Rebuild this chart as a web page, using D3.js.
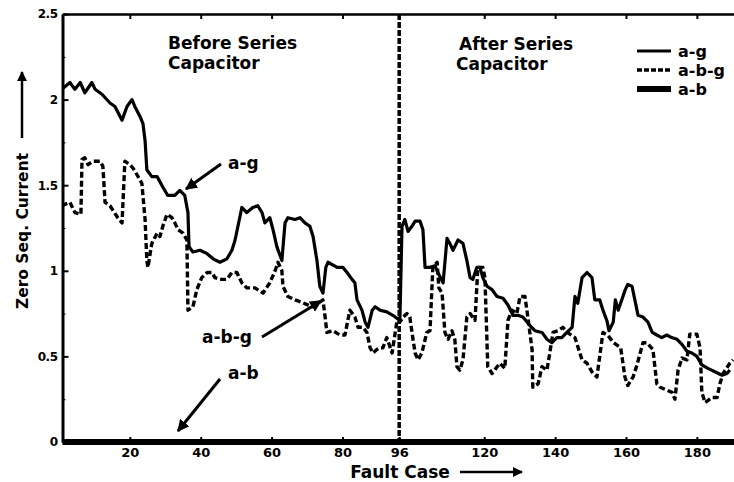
<!DOCTYPE html>
<html>
<head>
<meta charset="utf-8">
<script src="https://cdn.jsdelivr.net/npm/d3@7"></script>
<style>
body { margin: 0; background: #fff; }
svg text { font-family: "DejaVu Sans", "Liberation Sans", Arial, sans-serif; font-weight: bold; fill: #000; }
</style>
</head>
<body>
<svg id="chart" width="734" height="482"></svg>
<script>
// zero sequence current per fault case as [case, value]
var agSeries = [
  [0.8,2.06],[3.1,2.10],[4.5,2.06],[6.0,2.10],[7.3,2.04],[9.3,2.10],[10.2,2.06],[12.2,2.03],[14.4,1.98],[15.8,1.96],
  [17.8,1.88],[19.2,1.96],[20.6,2.00],[21.4,1.96],[22.9,1.90],[23.7,1.86],[24.3,1.76],[24.8,1.59],[26.2,1.55],[27.7,1.55],
  [29.3,1.49],[30.7,1.44],[32.7,1.44],[34.1,1.47],[35.5,1.44],[36.4,1.34],[36.7,1.14],[37.8,1.11],[39.8,1.12],[41.8,1.10],
  [43.5,1.07],[45.4,1.05],[47.4,1.07],[48.8,1.12],[49.7,1.18],[51.6,1.37],[53.0,1.34],[54.7,1.37],[56.1,1.38],[57.3,1.34],
  [58.1,1.28],[59.5,1.31],[60.4,1.24],[61.5,1.14],[62.9,1.06],[63.8,1.28],[64.6,1.31],[66.6,1.30],[68.0,1.31],[69.4,1.28],
  [70.8,1.26],[71.7,1.20],[72.8,1.06],[73.6,0.91],[74.5,0.87],[75.3,1.02],[75.9,1.05],[78.5,1.02],[80.1,1.02],[81.3,0.99],
  [82.7,0.95],[83.5,0.93],[84.1,0.83],[85.5,0.77],[86.4,0.70],[87.2,0.67],[88.4,0.77],[89.2,0.79],[90.6,0.77],[92.5,0.76],
  [94.2,0.74],[96.2,0.71],[96.8,1.26],[97.6,1.30],[98.5,1.23],[99.6,1.26],[100.5,1.29],[101.9,1.29],[102.7,1.24],[103.3,1.02],
  [104.7,1.02],[106.1,1.03],[106.9,0.99],[108.4,0.93],[109.5,1.19],[110.3,1.16],[111.2,1.12],[112.6,1.18],[114.0,1.16],[115.1,1.06],
  [116.0,0.96],[116.8,0.95],[117.9,1.02],[118.8,1.02],[119.6,0.96],[120.8,0.91],[122.2,0.89],[123.6,0.85],[125.3,0.84],[126.7,0.80],
  [128.1,0.74],[129.5,0.74],[130.9,0.73],[132.9,0.68],[134.3,0.65],[136.3,0.64],[137.7,0.60],[139.1,0.58],[140.5,0.61],[141.9,0.61],
  [143.3,0.64],[144.8,0.67],[145.6,0.85],[146.4,0.81],[147.6,0.96],[149.0,0.99],[150.4,0.96],[151.2,0.83],[152.6,0.83],[153.5,0.77],
  [154.6,0.71],[155.2,0.65],[156.4,0.70],[157.0,0.83],[157.8,0.77],[159.8,0.89],[160.5,0.92],[161.7,0.91],[162.5,0.83],[163.4,0.74],
  [164.8,0.73],[166.2,0.70],[167.4,0.64],[168.7,0.625],[170.1,0.61],[171.5,0.625],[172.9,0.61],[174.4,0.60],[175.8,0.57],[177.2,0.53],
  [178.6,0.52],[180.0,0.50],[181.4,0.45],[183.1,0.43],[185.1,0.41],[187.1,0.39],[188.5,0.40],[189.3,0.42]
];

var abgSeries = [
  [0.8,1.38],[3.1,1.40],[4.5,1.34],[6.2,1.33],[6.5,1.65],[7.3,1.66],[8.2,1.62],[9.6,1.64],[11.6,1.64],[12.4,1.61],
  [13.0,1.40],[14.4,1.38],[16.6,1.31],[17.8,1.28],[18.6,1.64],[20.0,1.62],[20.9,1.60],[22.9,1.53],[23.4,1.51],[24.3,1.30],
  [24.8,1.06],[25.1,1.02],[26.2,1.16],[27.7,1.22],[28.5,1.20],[29.3,1.26],[30.5,1.33],[31.9,1.31],[32.7,1.28],[33.6,1.24],
  [35.0,1.22],[36.1,1.18],[36.4,0.77],[37.8,0.79],[38.9,0.89],[40.3,0.96],[41.8,0.99],[43.2,0.99],[44.0,0.96],[45.4,0.95],
  [47.4,0.95],[48.8,0.99],[50.2,0.99],[51.6,0.93],[53.0,0.90],[55.3,0.90],[57.6,0.87],[59.5,0.93],[61.0,1.00],[61.8,1.05],
  [62.9,1.00],[63.2,0.91],[64.6,0.85],[66.6,0.83],[68.0,0.82],[71.4,0.79],[73.1,0.81],[74.5,0.83],[75.1,0.73],[75.6,0.64],
  [77.3,0.65],[79.3,0.625],[80.7,0.625],[81.5,0.71],[82.1,0.77],[83.5,0.73],[84.4,0.67],[85.8,0.67],[86.9,0.64],[87.8,0.55],
  [88.6,0.52],[89.7,0.54],[90.6,0.55],[91.4,0.55],[92.5,0.61],[94.0,0.52],[95.4,0.71],[96.2,0.70],[97.1,0.73],[98.2,0.75],
  [99.0,0.73],[99.9,0.60],[100.5,0.52],[101.3,0.48],[102.4,0.52],[103.8,0.64],[104.7,0.65],[105.5,1.02],[106.7,1.05],[107.2,0.90],
  [108.1,0.87],[108.9,0.64],[109.8,0.60],[110.9,0.65],[111.7,0.60],[112.3,0.44],[113.1,0.42],[114.0,0.48],[115.1,0.73],[116.0,0.75],
  [117.4,0.71],[118.2,1.02],[119.6,1.02],[120.2,0.96],[121.0,0.44],[122.2,0.40],[124.4,0.46],[125.8,0.43],[126.7,0.71],[127.8,0.77],
  [129.2,0.75],[130.1,0.85],[131.5,0.85],[132.3,0.73],[133.5,0.54],[133.7,0.32],[135.2,0.34],[136.3,0.44],[137.7,0.42],[138.5,0.52],
  [139.4,0.64],[140.8,0.65],[142.2,0.67],[143.4,0.64],[145.6,0.61],[147.6,0.48],[149.0,0.46],[150.4,0.41],[151.8,0.38],[153.5,0.64],
  [155.0,0.62],[156.5,0.58],[158.5,0.55],[159.7,0.38],[160.5,0.33],[162.0,0.38],[163.1,0.45],[164.8,0.58],[165.9,0.58],[167.6,0.54],
  [168.7,0.34],[169.6,0.32],[173.0,0.29],[173.8,0.25],[174.7,0.42],[175.8,0.49],[177.2,0.48],[178.0,0.63],[180.0,0.63],[180.9,0.55],
  [181.4,0.29],[182.3,0.23],[184.3,0.26],[185.7,0.26],[186.5,0.34],[187.4,0.40],[189.3,0.46],[190.2,0.48]
];

// a-b fault gives no zero sequence current
var abSeries = [[1,0],[96,0],[192,0]];

var capacitorCase = 96;
var xTicks = [20, 40, 60, 80, 96, 120, 140, 160, 180];
var yTicks = [0, 0.5, 1, 1.5, 2, 2.5];
var yMinorTicks = [0.25, 0.75, 1.25, 1.75, 2.25];
var legendNames = ["a-g", "a-b-g", "a-b"];

var svg = d3.select("#chart");

var x = d3.scaleLinear().domain([1, 192]).range([62.5, 739.4]);
var y = d3.scaleLinear().domain([0, 2.5]).range([442, 14]);

var styles = {
  "a-g":   { width: 3.2, dash: null },
  "a-b-g": { width: 3.4, dash: "6,3" },
  "a-b":   { width: 6,   dash: null }
};

var defs = svg.append("defs");
defs.append("clipPath").attr("id", "plot")
  .append("rect").attr("x", 62).attr("y", 10).attr("width", 680).attr("height", 440);
defs.append("marker")
  .attr("id", "arrow")
  .attr("viewBox", "0 0 10 10")
  .attr("refX", 9).attr("refY", 5)
  .attr("markerWidth", 4).attr("markerHeight", 4)
  .attr("orient", "auto")
  .append("path").attr("d", "M0,0L10,5L0,10z").attr("fill", "#000");

// axes
var leftAxis = svg.append("g")
  .attr("transform", "translate(62.5,0)")
  .call(d3.axisLeft(y).tickValues(yTicks).tickSize(-6).tickSizeOuter(0).tickPadding(5)
    .tickFormat(function (d) { return String(d); }));
leftAxis.select(".domain").attr("stroke-width", 3);
leftAxis.selectAll(".tick line").attr("stroke-width", 2);
leftAxis.selectAll("text").style("font-size", "12px").attr("letter-spacing", "-0.5");

svg.append("g")
  .attr("transform", "translate(62.5,0)")
  .call(d3.axisLeft(y).tickValues(yMinorTicks).tickSize(-3).tickFormat(""))
  .call(function (g) { g.select(".domain").remove(); });

var bottomAxis = svg.append("g")
  .attr("transform", "translate(0,442)")
  .call(d3.axisBottom(x).tickValues(xTicks).tickSize(-5).tickSizeOuter(0).tickPadding(6));
bottomAxis.select(".domain").attr("stroke-width", 2);
bottomAxis.selectAll(".tick line").attr("stroke-width", 2);
bottomAxis.selectAll("text").style("font-size", "13px");

var topAxis = svg.append("g")
  .attr("transform", "translate(0,14)")
  .call(d3.axisTop(x).tickValues(xTicks.filter(function (d) { return d !== capacitorCase; }))
    .tickSize(-5).tickSizeOuter(0).tickFormat(""));
topAxis.select(".domain").attr("stroke-width", 2.5);
topAxis.selectAll(".tick line").attr("stroke-width", 2);

// series
var line = d3.line()
  .x(function (d) { return x(d[0]); })
  .y(function (d) { return y(d[1]); });

var seriesData = { "a-g": agSeries, "a-b-g": abgSeries, "a-b": abSeries };
var plot = svg.append("g").attr("clip-path", "url(#plot)");

legendNames.forEach(function (name) {
  plot.append("path")
    .datum(seriesData[name])
    .attr("d", line)
    .attr("fill", "none")
    .attr("stroke", "#000")
    .attr("stroke-width", styles[name].width)
    .attr("stroke-dasharray", styles[name].dash)
    .attr("stroke-linejoin", "round");
});

// series capacitor divider
svg.append("line")
  .attr("x1", x(capacitorCase)).attr("x2", x(capacitorCase))
  .attr("y1", y(2.5)).attr("y2", y(0))
  .attr("stroke", "#000")
  .attr("stroke-width", 3.5)
  .attr("stroke-dasharray", "6,2");

// region captions
svg.append("text").attr("x", 168).attr("y", 49).style("font-size", "17px").text("Before Series");
svg.append("text").attr("x", 168).attr("y", 69).style("font-size", "17px").text("Capacitor");
svg.append("text").attr("x", 459).attr("y", 50).style("font-size", "17px").text("After Series");
svg.append("text").attr("x", 456).attr("y", 70).style("font-size", "17px").text("Capacitor");

// legend
var legend = svg.append("g").attr("transform", "translate(637,51)");
legendNames.forEach(function (name, i) {
  legend.append("line")
    .attr("x1", 0).attr("x2", 34)
    .attr("y1", i * 19).attr("y2", i * 19)
    .attr("stroke", "#000")
    .attr("stroke-width", styles[name].width)
    .attr("stroke-dasharray", name === "a-b-g" ? "5,2" : null);
  legend.append("text")
    .attr("x", 41).attr("y", i * 19 + 6)
    .style("font-size", "16px")
    .text(name);
});

// callouts
function arrow(x1, y1, x2, y2, w) {
  svg.append("line")
    .attr("x1", x1).attr("y1", y1).attr("x2", x2).attr("y2", y2)
    .attr("stroke", "#000").attr("stroke-width", w || 3)
    .attr("marker-end", "url(#arrow)");
}
svg.append("text").attr("x", 228).attr("y", 169).style("font-size", "17px").text("a-g");
arrow(221, 164, 186, 189);
svg.append("text").attr("x", 202).attr("y", 343).style("font-size", "17px").text("a-b-g");
arrow(262, 337, 321, 301);
svg.append("text").attr("x", 228).attr("y", 379).style("font-size", "17px").text("a-b");
arrow(220, 379, 178, 431);

// axis titles
svg.append("text")
  .attr("transform", "translate(28,231) rotate(-90)")
  .attr("text-anchor", "middle")
  .style("font-size", "15.5px")
  .text("Zero Seq. Current");
arrow(22, 138, 22, 72, 2.5);

svg.append("text")
  .attr("x", 400).attr("y", 478)
  .attr("text-anchor", "middle")
  .style("font-size", "17px")
  .text("Fault Case");
arrow(460, 472, 522, 472, 2.5);
</script>
</body>
</html>
